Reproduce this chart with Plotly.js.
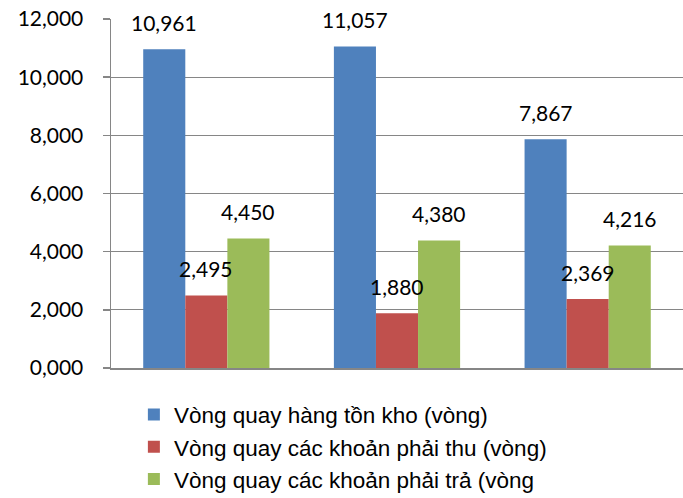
<!DOCTYPE html>
<html><head><meta charset="utf-8">
<script src="https://cdn.plot.ly/plotly-3.0.1.min.js"></script>
<style>body{margin:0;background:#fff}#c{width:683px;height:498px}</style>
</head><body><div id="c"></div>
<script>
const categories = ["Năm 1", "Năm 2", "Năm 3"];
const seriesNames = ["Vòng quay hàng tồn kho (vòng)", "Vòng quay các khoản phải thu (vòng)", "Vòng quay các khoản phải trả (vòng"];
const inventory = [10.961, 11.057, 7.867];
const receivable = [2.495, 1.880, 2.369];
const payable = [4.450, 4.380, 4.216];
const yTicks = [0, 2, 4, 6, 8, 10, 12];

const colors = ["#4F81BD", "#C0504D", "#9BBB59"];
const series = [inventory, receivable, payable];
const fmt = v => v.toFixed(3).replace('.', ',');
const numFont = {family: 'Lato, "Liberation Sans", sans-serif', size: 21, color: '#000'};

const traces = series.map((vals, i) => ({
  type: 'bar', x: categories, y: vals, name: seriesNames[i],
  marker: {color: colors[i]}, hoverinfo: 'skip'
}));

const annotations = [];
const barPx = 42;
series.forEach((vals, i) => {
  vals.forEach((v, j) => {
    annotations.push({
      x: categories[j], y: v, xref: 'x', yref: 'y', text: fmt(v), showarrow: false,
      xshift: (i - 1) * barPx, yshift: 27, yanchor: 'middle',
      font: numFont
    });
  });
});

const layout = {
  width: 683, height: 498,
  margin: {l: 111, r: 0, t: 19, b: 130, autoexpand: false},
  paper_bgcolor: '#fff', plot_bgcolor: '#fff',
  separators: ',.',
  barmode: 'group', bargap: 0.338, bargroupgap: 0,
  showlegend: true,
  legend: {
    orientation: 'v', x: 0.04, xanchor: 'left', y: -0.073, yanchor: 'top',
    font: {family: '"Liberation Sans", Arial, sans-serif', size: 22.5, color: '#000'},
    tracegroupgap: 0, itemwidth: 30, traceorder: 'normal'
  },
  xaxis: {
    showticklabels: false, showgrid: false, zeroline: false,
    showline: true, linecolor: '#868686', linewidth: 1.5, ticks: ''
  },
  yaxis: {
    range: [0, 12], tickvals: yTicks, tickformat: '.3f',
    showgrid: true, gridcolor: '#868686', gridwidth: 1,
    zeroline: false, showline: true, linecolor: '#868686', linewidth: 1.5,
    ticks: 'outside', ticklen: 7, tickcolor: '#868686', tickwidth: 1.5,
    tickfont: numFont,
    ticklabelstandoff: 15
  },
  annotations: annotations
};

Plotly.newPlot('c', traces, layout, {displayModeBar: false, staticPlot: true});
</script></body></html>
